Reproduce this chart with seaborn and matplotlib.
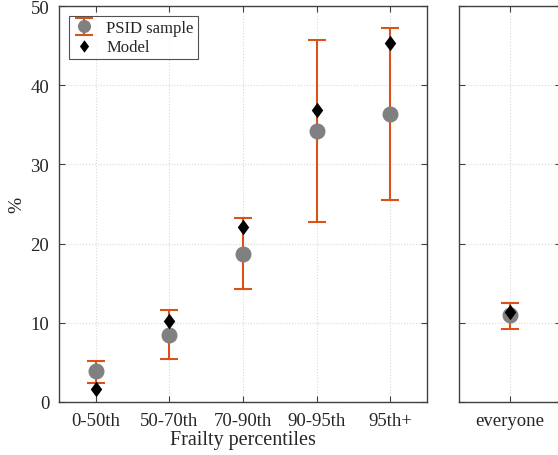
import numpy as np
import matplotlib
matplotlib.use('Agg')
import matplotlib.pyplot as plt
from matplotlib.container import ErrorbarContainer
from matplotlib.legend_handler import HandlerErrorbar
import seaborn as sns

# --------------------------------------------------
# Data
# --------------------------------------------------
groups = ['0-50th', '50-70th', '70-90th', '90-95th', '95th+']
psid = [3.9, 8.5, 18.7, 34.2, 36.4]
psid_lo = [2.4, 5.4, 14.3, 22.7, 25.5]
psid_hi = [5.2, 11.6, 23.2, 45.7, 47.2]
model = [1.6, 10.2, 22.1, 36.9, 45.3]

all_label = ['everyone']
all_psid = [11.0]
all_lo = [9.2]
all_hi = [12.5]
all_model = [11.4]

orange = '#D95319'
gray = '#808080'
# tall diamond, like the matlab one
diamond = [(0, -1.0), (0.74, 0), (0, 1.0), (-0.74, 0)]

sns.set_style('white')
plt.rcParams['font.family'] = ['Liberation Serif', 'DejaVu Serif']

fig = plt.figure(figsize=(5.58, 4.56), dpi=100)
ax1 = fig.add_axes([59/558, 53/456, 368/558, 396/456])
ax2 = fig.add_axes([459/558, 53/456, 102/558, 396/456])


def draw_panel(ax, labels, p, lo, hi, m):
    x = np.arange(1, len(labels) + 1)
    p = np.array(p)
    yerr = [p - np.array(lo), np.array(hi) - p]
    ax.errorbar(x, p, yerr=yerr, fmt='o', color=gray, ms=10.5, ecolor=orange,
                elinewidth=1.5, capsize=6.5, capthick=1.5, label='PSID sample', zorder=3)
    sns.scatterplot(x=x, y=m, ax=ax, marker=diamond, color='black', s=125,
                    linewidth=0, label='Model', zorder=4, legend=False)
    ax.set_xlim(0.5, len(labels) + 0.5)
    ax.set_ylim(0, 50)
    ax.set_xticks(x)
    ax.set_xticklabels(labels)
    ax.set_yticks(np.arange(0, 51, 10))
    ax.grid(True, linestyle=':', color='#d8d8d8', linewidth=0.8)
    ax.tick_params(direction='in', top=True, right=True, left=True, bottom=True,
                   length=4, color='#404040', labelsize=13.5, labelcolor='#262626', pad=7)
    for s in ax.spines.values():
        s.set_color('#404040')
        s.set_linewidth(1.0)


draw_panel(ax1, groups, psid, psid_lo, psid_hi, model)
draw_panel(ax2, all_label, all_psid, all_lo, all_hi, all_model)
ax2.set_yticklabels([])

ax1.set_ylabel('%', fontsize=14, color='#262626')
ax1.set_xlabel('Frailty percentiles', fontsize=14.5, color='#262626', labelpad=1)

handles, labels = ax1.get_legend_handles_labels()
order = [labels.index('PSID sample'), labels.index('Model')]
leg = ax1.legend([handles[i] for i in order], [labels[i] for i in order],
                 loc='upper left', fontsize=12, frameon=True, fancybox=False,
                 edgecolor='#262626', borderpad=0.25, handletextpad=0.7,
                 handlelength=1.3, borderaxespad=0.6, labelspacing=0.15,
                 markerscale=0.8,
                 handler_map={ErrorbarContainer: HandlerErrorbar(xerr_size=0.25, yerr_size=0.5)})
leg.get_frame().set_linewidth(0.8)
# smaller caps on the legend errorbar
for ln in leg.get_lines():
    if ln.get_marker() == '_':
        ln.set_markersize(5)

fig.savefig('out.png', dpi=100)
